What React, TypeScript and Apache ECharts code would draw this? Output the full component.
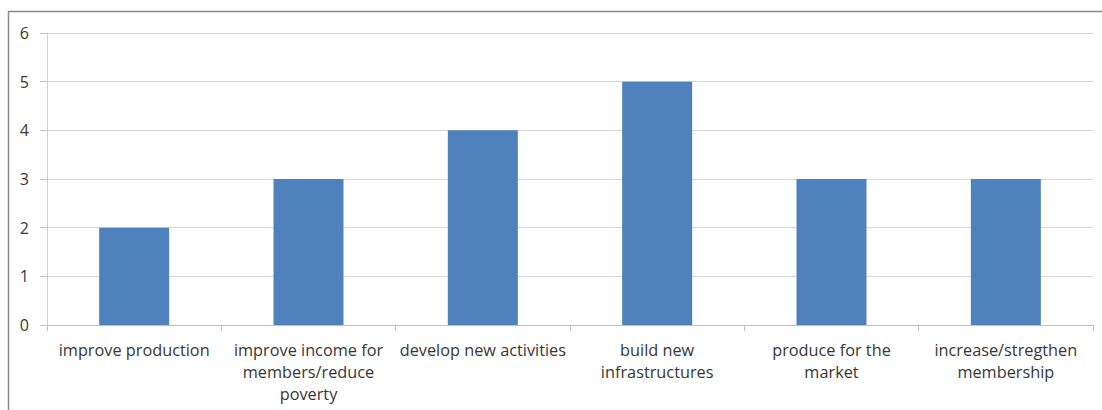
import React, { useEffect, useRef } from "react";
import * as echarts from "echarts";

const categories = [
  "improve production",
  "improve income for\nmembers/reduce\npoverty",
  "develop new activities",
  "build new\ninfrastructures",
  "produce for the\nmarket",
  "increase/stregthen\nmembership",
];
const values = [2, 3, 4, 5, 3, 3];
const yTicks = { min: 0, max: 6, interval: 1 };

const textColor = "#363636";
const font = "'Open Sans', 'Liberation Sans', sans-serif";

export default function App() {
  const ref = useRef<HTMLDivElement>(null);

  useEffect(() => {
    if (!ref.current) return;
    const chart = echarts.init(ref.current, null, { renderer: "svg" });
    chart.setOption({
      animation: false,
      backgroundColor: "#ffffff",
      graphic: [
        {
          type: "rect",
          shape: { x: 8.5, y: 11.5, width: 1200, height: 500 },
          style: { fill: "none", stroke: "#8a8a8a", lineWidth: 1.5 },
          silent: true,
        },
      ],
      grid: { left: 47, right: 9, top: 33, bottom: 85 },
      xAxis: {
        type: "category",
        data: categories,
        axisLine: { lineStyle: { color: "#bfbfbf", width: 1 } },
        axisTick: { show: true, alignWithLabel: false, length: 6, lineStyle: { color: "#bfbfbf" } },
        axisLabel: {
          interval: 0,
          color: textColor,
          fontFamily: font,
          fontSize: 16.3,
          lineHeight: 22,
          margin: 14,
        },
      },
      yAxis: {
        type: "value",
        min: yTicks.min,
        max: yTicks.max,
        interval: yTicks.interval,
        axisLine: { show: true, lineStyle: { color: "#d0d0d0", width: 1 } },
        axisTick: { show: true, length: 7, lineStyle: { color: "#bfbfbf" } },
        axisLabel: { color: textColor, fontFamily: font, fontSize: 16, margin: 18 },
        splitLine: { lineStyle: { color: "#d6d6d6", width: 1 } },
      },
      series: [
        {
          type: "bar",
          data: values,
          barWidth: 70,
          itemStyle: { color: "#4f81bd" },
        },
      ],
    });
    return () => chart.dispose();
  }, []);

  return (
    <div
      ref={ref}
      style={{ position: "absolute", left: 0, top: 0, width: 1102, height: 410 }}
    />
  );
}
